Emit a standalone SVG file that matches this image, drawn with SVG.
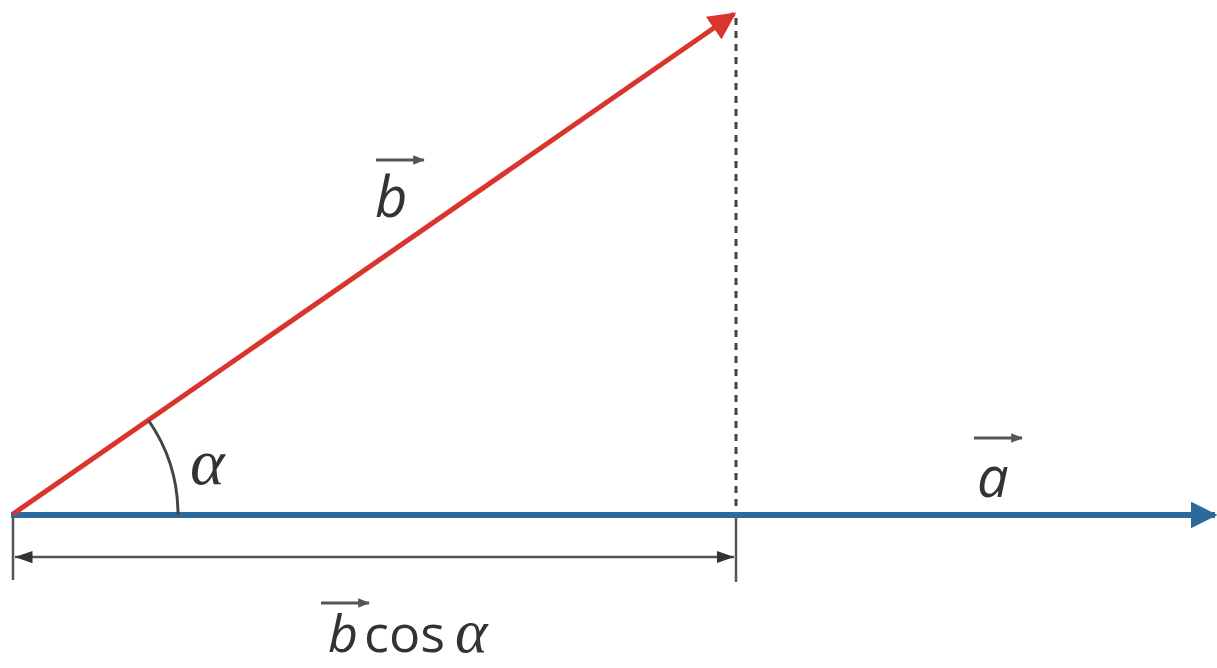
<svg xmlns="http://www.w3.org/2000/svg" width="1217" height="668" viewBox="0 0 1217 668">
<style>
.lbl{font-family:"Open Sans","Liberation Sans",sans-serif;font-style:italic;fill:#333;}
.up{font-family:"Open Sans","Liberation Sans",sans-serif;fill:#333;}
.greek{font-family:"Liberation Serif",serif;font-style:italic;fill:#333;}
.thin{stroke:#555;stroke-width:2.5;fill:none;}
.vec{stroke:#555;stroke-width:3;fill:none;}
</style>
<defs>
<marker id="redHead" viewBox="0 0 10 10" refX="9" refY="5" markerWidth="5.5" markerHeight="5.5" orient="auto" markerUnits="strokeWidth"><path d="M0,0 L10,5 L0,10 Z" fill="#d9342e"/></marker>
<marker id="blueHead" viewBox="0 0 10 10" refX="9" refY="5" markerWidth="4.5" markerHeight="4.5" orient="auto" markerUnits="strokeWidth"><path d="M0,0 L10,5 L0,10 Z" fill="#2d6a9c"/></marker>
<marker id="dimHead" viewBox="0 0 10 10" refX="10" refY="5" markerWidth="7" markerHeight="7" orient="auto-start-reverse" markerUnits="strokeWidth"><path d="M0,1.5 L10,5 L0,8.5 Z" fill="#333"/></marker>
<marker id="smallHead" viewBox="0 0 10 10" refX="9" refY="5" markerWidth="4" markerHeight="4" orient="auto" markerUnits="strokeWidth"><path d="M0,1 L10,5 L0,9 Z" fill="#555"/></marker>
</defs>
<rect width="1217" height="668" fill="#fff"/>
<g id="connectors">
<line id="dotted" x1="736" y1="18" x2="736" y2="515" stroke="#444" stroke-width="3" stroke-dasharray="7,6"/>
<line id="tick-left" class="thin" x1="13" y1="515" x2="13" y2="580"/>
<line id="tick-right" class="thin" x1="736" y1="515" x2="736" y2="582"/>
<line id="dim" x1="15" y1="557" x2="734" y2="557" stroke="#555" stroke-width="2.5" marker-start="url(#dimHead)" marker-end="url(#dimHead)"/>
<line id="vec-a" x1="11" y1="515" x2="1215" y2="515" stroke="#2d6a9c" stroke-width="6" marker-end="url(#blueHead)"/>
<line id="vec-b" x1="13" y1="514" x2="734" y2="14" stroke="#d9342e" stroke-width="5" marker-end="url(#redHead)"/>
<path id="angle-arc" d="M148.6,420.5 A165,165 0 0 1 178,515" stroke="#444" stroke-width="3" fill="none"/>
</g>
<g id="label-b">
<line class="vec" x1="376" y1="160" x2="424" y2="160" marker-end="url(#smallHead)"/>
<text class="lbl" x="375" y="217" font-size="56">b</text>
</g>
<g id="label-alpha">
<text class="greek" x="190" y="484" font-size="66">α</text>
</g>
<g id="label-a">
<line class="vec" x1="974" y1="438" x2="1022" y2="438" marker-end="url(#smallHead)"/>
<text class="lbl" x="977" y="497" font-size="56">a</text>
</g>
<g id="label-bcos">
<line class="vec" x1="321" y1="603" x2="369" y2="603" marker-end="url(#smallHead)"/>
<text x="328" y="652" font-size="52"><tspan class="lbl">b</tspan><tspan class="up" dx="6">cos</tspan><tspan class="greek" dx="10" font-size="62">α</tspan></text>
</g>
</svg>
